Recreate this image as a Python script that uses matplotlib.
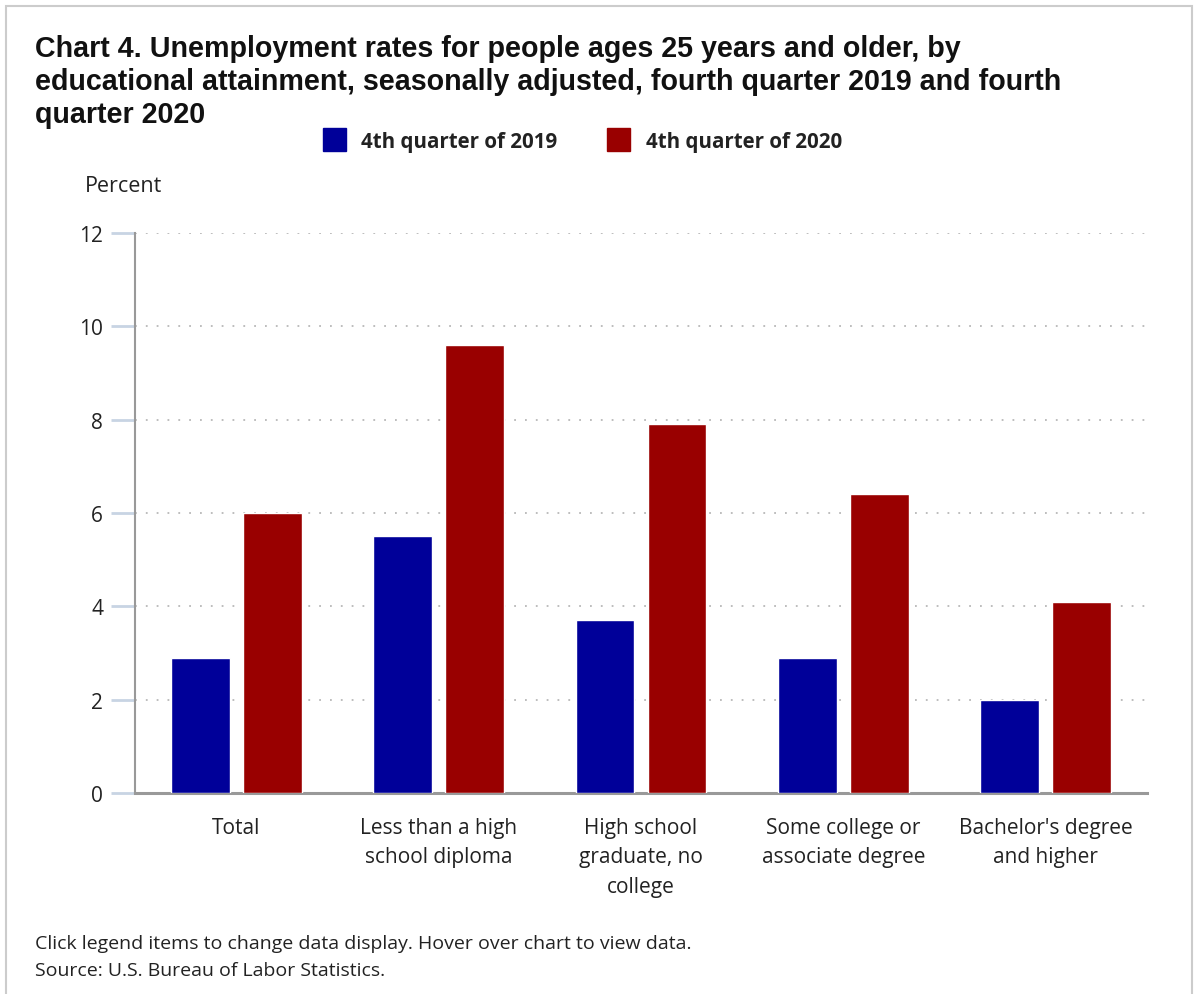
import numpy as np
import matplotlib.pyplot as plt
from matplotlib.patches import Rectangle

categories = ['Total', 'Less than a high\nschool diploma', 'High school\ngraduate, no\ncollege',
              'Some college or\nassociate degree', "Bachelor's degree\nand higher"]
q4_2019 = [2.9, 5.5, 3.7, 2.9, 2.0]
q4_2020 = [6.0, 9.6, 7.9, 6.4, 4.1]
series_names = ['4th quarter of 2019', '4th quarter of 2020']
yticks = [0, 2, 4, 6, 8, 10, 12]

blue = '#000099'
red = '#990000'
font = 'Open Sans'

fig = plt.figure(figsize=(12, 9.95), dpi=100)
ax = fig.add_axes([0.1125, 0.202, 0.8433, 0.563])

x = np.arange(len(categories))
w = 0.29
off = 0.178
b1 = ax.bar(x - off, q4_2019, w, color=blue, edgecolor='white', linewidth=1, zorder=3)
b2 = ax.bar(x + off, q4_2020, w, color=red, edgecolor='white', linewidth=1, zorder=3)

ax.set_xlim(-0.5, len(categories) - 0.5)
ax.set_ylim(0, 12)
ax.set_yticks(yticks)
ax.set_yticklabels([str(t) for t in yticks], fontsize=15, family=font, color='#222222')
ax.set_xticks(x)
ax.set_xticklabels(categories, fontsize=15, family=font, color='#222222', linespacing=1.55)
ax.tick_params(axis='x', length=0, pad=17)
ax.tick_params(axis='y', length=17, width=2, color='#c8d4e3', pad=6)
ax.grid(axis='y', linestyle=(0, (1, 5)), color='#b8b8b8', linewidth=1.3, zorder=0)
for s in ['top', 'right']:
    ax.spines[s].set_visible(False)
ax.spines['left'].set_color('#999999')
ax.spines['left'].set_linewidth(1.5)
ax.spines['bottom'].set_color('#999999')
ax.spines['bottom'].set_linewidth(2.2)

fig.text(0.029, 0.965, 'Chart 4. Unemployment rates for people ages 25 years and older, by\n'
         'educational attainment, seasonally adjusted, fourth quarter 2019 and fourth\n'
         'quarter 2020', fontsize=20.6, fontweight='bold', family='Liberation Sans',
         va='top', ha='left', linespacing=1.22, color='#111111')

fig.text(0.071, 0.813, 'Percent', fontsize=15.5, family=font, ha='left', va='center', color='#222222')

# legend
fig.patches.append(Rectangle((0.269, 0.847), 0.019, 0.023, transform=fig.transFigure,
                             color=blue, figure=fig))
fig.text(0.301, 0.857, series_names[0], fontsize=14.8, fontweight='bold', family=font,
         va='center', ha='left', color='#222222')
fig.patches.append(Rectangle((0.506, 0.847), 0.019, 0.023, transform=fig.transFigure,
                             color=red, figure=fig))
fig.text(0.538, 0.857, series_names[1], fontsize=14.8, fontweight='bold', family=font,
         va='center', ha='left', color='#222222')

fig.text(0.029, 0.051, 'Click legend items to change data display. Hover over chart to view data.',
         fontsize=14, family=font, va='center', ha='left', color='#222222')
fig.text(0.029, 0.024, 'Source: U.S. Bureau of Labor Statistics.',
         fontsize=14, family=font, va='center', ha='left', color='#222222')

# outer frame
fig.patches.append(Rectangle((0.005, -0.01), 0.988, 1.003, transform=fig.transFigure,
                             fill=False, edgecolor='#cccccc', linewidth=1.5, figure=fig))

fig.savefig('out.png', dpi=100)
